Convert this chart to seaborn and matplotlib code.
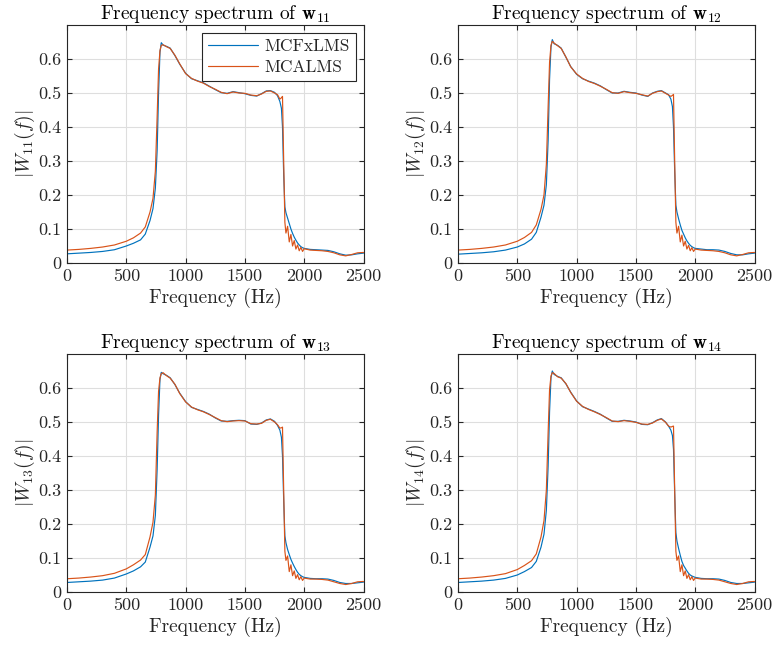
import matplotlib
matplotlib.use("Agg")
import matplotlib.pyplot as plt
import seaborn as sns
import pandas as pd

# ---------------- data ----------------
freq = [0, 100, 200, 300, 400, 500, 560, 620, 660, 700, 725, 745, 760, 772, 784, 795,
        810, 840, 870, 910, 950, 1000, 1050, 1100, 1150, 1200, 1250, 1300, 1350, 1400,
        1450, 1500, 1550, 1600, 1640, 1680, 1715, 1750, 1775, 1795, 1808, 1817, 1827,
        1837, 1846, 1860, 1874, 1888, 1902, 1916, 1930, 1944, 1958, 1972, 1986, 2000,
        2050, 2100, 2150, 2200, 2250, 2300, 2350, 2400, 2450, 2500]

w11_fx = [0.027, 0.029, 0.031, 0.034, 0.039, 0.050, 0.058, 0.068, 0.085, 0.125, 0.160, 0.220,
          0.330, 0.500, 0.620, 0.648, 0.641, 0.637, 0.632, 0.610, 0.585, 0.558, 0.542, 0.536,
          0.530, 0.520, 0.510, 0.501, 0.499, 0.504, 0.501, 0.498, 0.493, 0.491, 0.498, 0.506,
          0.507, 0.502, 0.492, 0.475, 0.455, 0.400, 0.260, 0.165, 0.148, 0.132, 0.116, 0.100,
          0.087, 0.076, 0.067, 0.059, 0.053, 0.048, 0.045, 0.043, 0.040, 0.039, 0.038, 0.037,
          0.033, 0.027, 0.023, 0.024, 0.027, 0.029]
w11_ca = [0.038, 0.040, 0.043, 0.047, 0.053, 0.064, 0.074, 0.088, 0.106, 0.150, 0.190, 0.270,
          0.430, 0.570, 0.625, 0.640, 0.642, 0.636, 0.631, 0.611, 0.586, 0.557, 0.543, 0.535,
          0.529, 0.519, 0.511, 0.502, 0.498, 0.503, 0.500, 0.499, 0.494, 0.492, 0.497, 0.505,
          0.506, 0.500, 0.495, 0.482, 0.486, 0.490, 0.300, 0.120, 0.088, 0.108, 0.062, 0.084,
          0.050, 0.066, 0.041, 0.053, 0.036, 0.046, 0.034, 0.042, 0.038, 0.037, 0.036, 0.034,
          0.030, 0.024, 0.021, 0.025, 0.030, 0.031]

w12_fx = [0.026, 0.028, 0.030, 0.033, 0.038, 0.047, 0.056, 0.070, 0.090, 0.135, 0.170, 0.230,
          0.360, 0.540, 0.635, 0.657, 0.645, 0.640, 0.632, 0.605, 0.578, 0.555, 0.542, 0.535,
          0.529, 0.521, 0.510, 0.500, 0.500, 0.505, 0.502, 0.500, 0.494, 0.490, 0.500, 0.505,
          0.507, 0.500, 0.495, 0.482, 0.460, 0.400, 0.270, 0.170, 0.150, 0.130, 0.112, 0.096,
          0.085, 0.074, 0.065, 0.058, 0.052, 0.048, 0.045, 0.043, 0.041, 0.039, 0.039, 0.038,
          0.034, 0.028, 0.024, 0.024, 0.027, 0.029]
w12_ca = [0.038, 0.040, 0.043, 0.047, 0.053, 0.064, 0.075, 0.090, 0.112, 0.158, 0.200, 0.290,
          0.460, 0.590, 0.640, 0.652, 0.647, 0.639, 0.631, 0.606, 0.577, 0.556, 0.543, 0.534,
          0.528, 0.520, 0.511, 0.501, 0.499, 0.504, 0.501, 0.499, 0.495, 0.491, 0.499, 0.504,
          0.506, 0.499, 0.494, 0.490, 0.493, 0.496, 0.300, 0.120, 0.088, 0.108, 0.062, 0.082,
          0.050, 0.064, 0.041, 0.052, 0.036, 0.045, 0.034, 0.041, 0.038, 0.037, 0.036, 0.034,
          0.030, 0.024, 0.021, 0.025, 0.030, 0.031]

w13_fx = [0.028, 0.030, 0.032, 0.035, 0.041, 0.053, 0.062, 0.074, 0.088, 0.132, 0.165, 0.225,
          0.360, 0.520, 0.625, 0.646, 0.642, 0.637, 0.630, 0.610, 0.585, 0.560, 0.543, 0.537,
          0.531, 0.523, 0.512, 0.503, 0.502, 0.504, 0.505, 0.504, 0.494, 0.493, 0.497, 0.506,
          0.509, 0.502, 0.490, 0.476, 0.455, 0.400, 0.270, 0.165, 0.145, 0.125, 0.110, 0.096,
          0.085, 0.075, 0.066, 0.058, 0.052, 0.048, 0.045, 0.043, 0.040, 0.039, 0.039, 0.038,
          0.034, 0.028, 0.025, 0.025, 0.027, 0.029]
w13_ca = [0.039, 0.041, 0.044, 0.048, 0.055, 0.068, 0.080, 0.094, 0.110, 0.162, 0.205, 0.285,
          0.470, 0.590, 0.630, 0.642, 0.645, 0.636, 0.629, 0.611, 0.584, 0.559, 0.544, 0.536,
          0.530, 0.522, 0.513, 0.504, 0.501, 0.503, 0.504, 0.503, 0.495, 0.494, 0.496, 0.505,
          0.508, 0.500, 0.492, 0.482, 0.483, 0.485, 0.300, 0.120, 0.093, 0.106, 0.060, 0.080,
          0.048, 0.062, 0.040, 0.051, 0.036, 0.045, 0.034, 0.041, 0.038, 0.038, 0.037, 0.035,
          0.030, 0.025, 0.022, 0.025, 0.030, 0.031]

w14_fx = [0.028, 0.030, 0.032, 0.035, 0.040, 0.050, 0.060, 0.072, 0.090, 0.132, 0.170, 0.240,
          0.370, 0.530, 0.630, 0.650, 0.640, 0.634, 0.630, 0.612, 0.588, 0.562, 0.545, 0.538,
          0.531, 0.523, 0.512, 0.502, 0.502, 0.505, 0.503, 0.500, 0.493, 0.492, 0.498, 0.506,
          0.510, 0.500, 0.488, 0.476, 0.460, 0.420, 0.290, 0.175, 0.150, 0.128, 0.108, 0.090,
          0.078, 0.070, 0.062, 0.055, 0.050, 0.047, 0.045, 0.043, 0.040, 0.039, 0.039, 0.038,
          0.034, 0.028, 0.025, 0.025, 0.027, 0.029]
w14_ca = [0.039, 0.041, 0.044, 0.048, 0.054, 0.066, 0.078, 0.092, 0.112, 0.162, 0.210, 0.300,
          0.470, 0.595, 0.635, 0.645, 0.643, 0.633, 0.629, 0.613, 0.587, 0.561, 0.546, 0.537,
          0.530, 0.522, 0.513, 0.503, 0.501, 0.504, 0.502, 0.499, 0.494, 0.493, 0.497, 0.505,
          0.509, 0.499, 0.488, 0.485, 0.487, 0.488, 0.300, 0.120, 0.093, 0.106, 0.060, 0.080,
          0.048, 0.062, 0.040, 0.051, 0.036, 0.045, 0.034, 0.041, 0.038, 0.038, 0.037, 0.035,
          0.030, 0.025, 0.022, 0.025, 0.030, 0.031]

series_names = ["MCFxLMS", "MCALMS"]
panel_ids = ["11", "12", "13", "14"]
panel_data = {"11": (w11_fx, w11_ca), "12": (w12_fx, w12_ca),
              "13": (w13_fx, w13_ca), "14": (w14_fx, w14_ca)}
x_ticks = [0, 500, 1000, 1500, 2000, 2500]
y_ticks = [0, 0.1, 0.2, 0.3, 0.4, 0.5, 0.6]

# ---------------- style ----------------
sns.set_theme(style="white")
plt.rcParams.update({
    "font.family": ["cmr10"],
    "mathtext.fontset": "cm",
    "axes.formatter.use_mathtext": True,
    "axes.unicode_minus": False,
    "font.size": 13,
})
colors = ["#0072BD", "#D95319"]
edge = "#262626"

W, H = 774, 646
fig = plt.figure(figsize=(W / 100, H / 100), dpi=100)
lefts = [67, 458, 67, 458]
tops = [25, 25, 354, 354]
aw, ah = 296.5, 238

for i, pid in enumerate(panel_ids):
    ax = fig.add_axes([lefts[i] / W, 1 - (tops[i] + ah) / H, aw / W, ah / H])
    fx, ca = panel_data[pid]
    df = pd.DataFrame({
        "f": freq + freq,
        "v": fx + ca,
        "alg": [series_names[0]] * len(freq) + [series_names[1]] * len(freq),
    })
    sns.lineplot(data=df, x="f", y="v", hue="alg", palette=colors, ax=ax,
                 estimator=None, sort=False, linewidth=0.85, legend=False)
    ax.set_xlim(0, 2500)
    ax.set_ylim(0, 0.7)
    ax.set_xticks(x_ticks)
    ax.set_yticks(y_ticks)
    ax.set_xticklabels([str(t) for t in x_ticks])
    ax.set_yticklabels(["0"] + [f"{t:.1f}" for t in y_ticks[1:]])
    ax.grid(True, color="#dedede", linewidth=0.8)
    ax.set_axisbelow(True)
    for s in ax.spines.values():
        s.set_color(edge)
        s.set_linewidth(0.8)
    ax.tick_params(direction="in", length=3.5, width=0.8, color=edge,
                   top=True, right=True, bottom=True, left=True,
                   labelsize=13, labelcolor="#262626", pad=4)
    ax.set_xlabel("Frequency (Hz)", fontsize=14, color="#262626", labelpad=3)
    ax.set_ylabel(r"$|W_{%s}(f)|$" % pid, fontsize=14, color="#262626", labelpad=1)
    ax.set_title(r"Frequency spectrum of $\mathbf{w}_{%s}$" % pid, fontsize=14,
                 color="black", pad=4)
    if i == 0:
        handles = ax.get_lines()[:2]
        leg = ax.legend(handles, series_names, loc="upper right", fontsize=12.5,
                        frameon=True, fancybox=False, framealpha=1, edgecolor=edge,
                        handlelength=2.9, borderpad=0.35, labelspacing=0.3,
                        handletextpad=0.35, borderaxespad=0.45)
        leg.get_frame().set_linewidth(0.8)

fig.savefig("out.png", dpi=100)
